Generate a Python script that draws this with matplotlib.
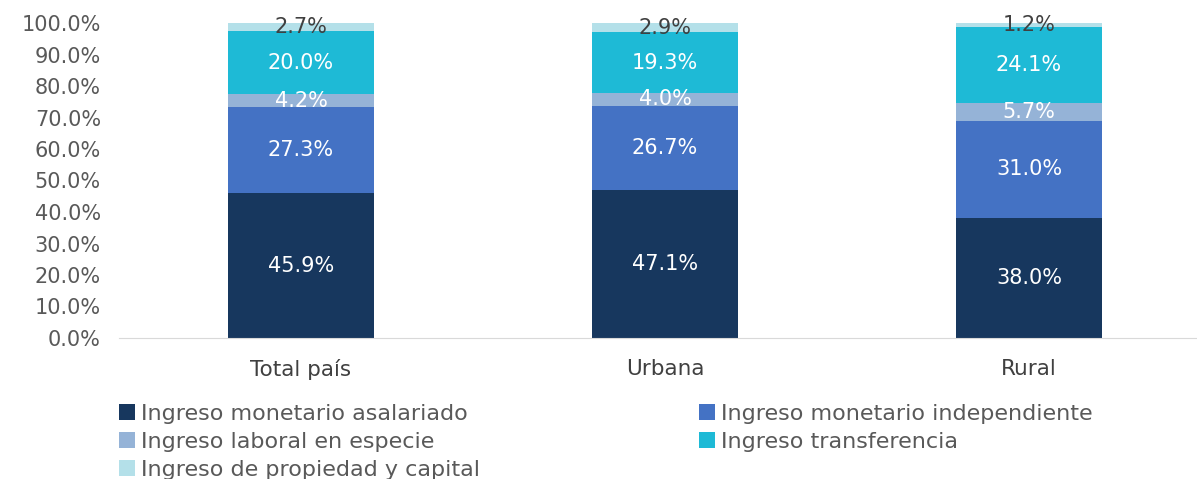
import matplotlib
matplotlib.use("Agg")
import matplotlib.pyplot as plt
from matplotlib.patches import Patch
import numpy as np

categories = ["Total país", "Urbana", "Rural"]
series_names = [
    "Ingreso monetario asalariado",
    "Ingreso monetario independiente",
    "Ingreso laboral en especie",
    "Ingreso transferencia",
    "Ingreso de propiedad y capital",
]
asalariado = [45.9, 47.1, 38.0]
independiente = [27.3, 26.7, 31.0]
especie = [4.2, 4.0, 5.7]
transferencia = [20.0, 19.3, 24.1]
propiedad = [2.7, 2.9, 1.2]
yticks = [0, 10, 20, 30, 40, 50, 60, 70, 80, 90, 100]

colors = ["#17375E", "#4472C4", "#95B3D7", "#1EBAD6", "#B4E0E9"]
label_colors = ["white", "white", "white", "white", "#404040"]

plt.rcParams['font.family'] = ['DejaVu Sans']

fig = plt.figure(figsize=(11.97, 4.79), dpi=100)
ax = fig.add_axes([119/1197, 1-338/479, 1-119/1197, (338-23)/479])

x = np.arange(len(categories))
bottom = np.zeros(len(categories))
data = [asalariado, independiente, especie, transferencia, propiedad]
for vals, c, lc in zip(data, colors, label_colors):
    vals = np.array(vals)
    ax.bar(x, vals, width=0.4, bottom=bottom, color=c, zorder=2)
    for xi, v, b in zip(x, vals, bottom):
        ax.text(xi, b + v/2, f"{v:.1f}%", ha="center", va="center",
                color=lc, fontsize=15)
    bottom += vals

ax.set_xlim(-0.5, (1197-301)/364)
ax.set_ylim(0, 100)
ax.set_yticks(yticks)
ax.set_yticklabels([f"{t:.1f}%" for t in yticks], fontsize=15, color="#595959")
ax.set_xticks(x)
ax.set_xticklabels(categories, fontsize=15.5, color="#404040")
ax.tick_params(axis="both", length=0)
ax.tick_params(axis="x", pad=15)
ax.tick_params(axis="y", pad=13)
for s in ["top", "right", "left"]:
    ax.spines[s].set_visible(False)
ax.spines["bottom"].set_color("#D9D9D9")

# legend laid out row by row as in the reference: two column blocks
col1 = [0, 2, 4]
col2 = [1, 3]
common = dict(loc="upper left", frameon=False, fontsize=16, handlelength=0.7,
              handleheight=0.7, handletextpad=0.3, labelspacing=0.36,
              labelcolor="#595959", borderaxespad=0, borderpad=0)
fig.legend(handles=[Patch(facecolor=colors[i], label=series_names[i]) for i in col1],
           bbox_to_anchor=(119/1197, 1-404/479), **common)
fig.legend(handles=[Patch(facecolor=colors[i], label=series_names[i]) for i in col2],
           bbox_to_anchor=(699/1197, 1-404/479), **common)

fig.savefig("out.png", dpi=100)
